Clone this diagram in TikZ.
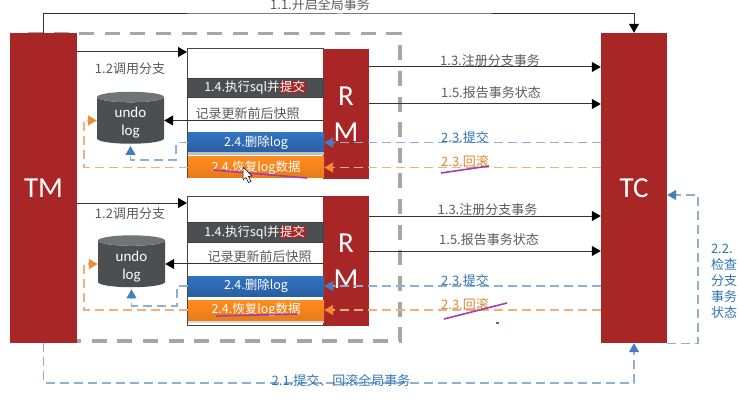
\documentclass[tikz,border=0pt]{standalone}
\usepackage{xcolor}
\usepackage{fontspec}
\setmainfont{Carlito}
\newfontfamily\cjk{Noto Sans CJK SC}
\usetikzlibrary{arrows.meta,shapes.geometric,shadows}

\tikzset{
  bloque/.style={rectangle, fill=rojoBloque, text=white, inner sep=0pt, font=\fontsize{29}{36}\selectfont, align=center},
  caja/.style={rectangle, draw=grisCaja, line width=1pt, fill=white, minimum width=136pt, minimum height=129pt},
  barra/.style={rectangle, minimum width=136pt, text=white, inner sep=0pt, font=\cjk\fontsize{12.5}{15}\selectfont},
  azulbarra/.style={barra, top color=azulClaro, bottom color=azulBajo},
  naranjabarra/.style={barra, top color=naranjaClaro, bottom color=naranjaBajo},
  etiqueta/.style={inner sep=0pt, text=grisTexto, font=\cjk\fontsize{13}{16}\selectfont},
  undo/.style={cylinder, shape border rotate=90, aspect=.35, cylinder uses custom fill, cylinder body fill=grisOscuro, cylinder end fill=grisTapa, draw=none, minimum width=67pt, minimum height=49pt, inner sep=0pt},
  undotexto/.style={inner sep=0pt, text=white, align=center, font=\fontsize{15}{18}\selectfont},
  flecha/.style={line width=1pt, draw=black!80, -{Triangle[length=9pt,width=10pt,color=black]}},
  azul/.style={line width=1.2pt, draw=azulLinea, dash pattern=on 9pt off 5pt, -{Triangle[length=9pt,width=10pt,color=azulPunta]}},
  naranja/.style={line width=1.2pt, draw=naranjaLinea, dash pattern=on 9pt off 5pt, -{Triangle[length=9pt,width=10pt,color=naranjaPunta]}},
  morado/.style={line width=1.6pt, draw=moradoTrazo}
}

\begin{document}
\begin{tikzpicture}[x=1pt, y=-1pt]

% Colores
\definecolor{rojoBloque}{RGB}{168,39,38}
\definecolor{grisCaja}{RGB}{70,72,74}
\definecolor{grisTexto}{RGB}{90,90,90}
\definecolor{grisOscuro}{RGB}{75,79,82}
\definecolor{grisTapa}{RGB}{112,116,118}
\definecolor{grisRayas}{RGB}{166,166,166}
\definecolor{azulLinea}{RGB}{143,175,215}
\definecolor{azulPunta}{RGB}{70,125,190}
\definecolor{azulTexto}{RGB}{46,117,182}
\definecolor{azulClaro}{RGB}{50,115,195}
\definecolor{azulBajo}{RGB}{42,95,160}
\definecolor{naranjaLinea}{RGB}{240,175,125}
\definecolor{naranjaPunta}{RGB}{240,140,50}
\definecolor{naranjaTexto}{RGB}{222,135,50}
\definecolor{naranjaClaro}{RGB}{255,140,30}
\definecolor{naranjaBajo}{RGB}{232,122,24}
\definecolor{moradoTrazo}{RGB}{165,60,170}

\useasboundingbox (0,0) rectangle (738,406);

% Marco discontinuo
\draw[line width=3.5pt, draw=grisRayas, dash pattern=on 15pt off 10.6pt] (28,33.5) -- (400,33.5) -- (400,341) -- (28,341);

% TM y TC
\node[bloque, minimum width=67pt, minimum height=310pt] (TM) at (43.5,188) {TM};
\node[bloque, minimum width=66pt, minimum height=310pt] (TC) at (634,188) {TC};

% Rama superior
\node[caja] (B1) at (255,113.5) {};
\node[bloque, minimum width=46pt, minimum height=130pt] (R1) at (346,114) {R\\M};
\node[barra, fill=grisOscuro, draw=black!75, minimum height=19pt] (E1) at (255,87.5) {1.4.执行sql并\setlength{\fboxsep}{.5pt}\colorbox{rojoBloque}{提交}};
\node[azulbarra, minimum height=19pt, drop shadow={shadow xshift=0pt, shadow yshift=-3pt, fill=black!25, opacity=1}] (D1) at (256,142.5) {2.4.删除log};
\node[naranjabarra, minimum height=21pt] (H1) at (256,167.5) {2.4.恢复log数据};
\node[undo] (U1) at (130.5,120.5) {\phantom{\rule{30pt}{36pt}}};
\node[undotexto] (T1) at (130.5,123) {undo\\log};
\node[etiqueta] (S1) at (247.5,114) {记录更新前后快照};

% Rama inferior
\node[caja] (B2) at (255,260.5) {};
\node[bloque, minimum width=46pt, minimum height=130pt] (R2) at (346,261) {R\\M};
\node[barra, fill=grisOscuro, draw=black!75, minimum height=20pt] (E2) at (255,232.5) {1.4.执行sql并\setlength{\fboxsep}{.5pt}\colorbox{rojoBloque}{提交}};
\node[azulbarra, minimum height=20pt] (D2) at (256,286) {2.4.删除log};
\node[naranjabarra, minimum height=20pt, drop shadow={shadow xshift=0pt, shadow yshift=-3pt, fill=black!15, opacity=1}] (H2) at (256,310) {2.4.恢复log数据};
\node[undo] (U2) at (131.5,264) {\phantom{\rule{30pt}{36pt}}};
\node[undotexto] (T2) at (131.5,266.5) {undo\\log};
\node[etiqueta] (S2) at (259.5,257) {记录更新前后快照};

% Puntos de paso
\coordinate (c11) at (340,14);
\coordinate (c21) at (340,383);
\coordinate (c22) at (698,195);
\coordinate (a121) at (187,52);
\coordinate (a122) at (187,203);
\coordinate (a131) at (480,67);
\coordinate (a151) at (480,104);
\coordinate (a132) at (480,216);
\coordinate (a152) at (480,251);
\coordinate (az1) at (176,160);
\coordinate (az2) at (177,306);
\coordinate (na1) at (84,140);
\coordinate (na2) at (84,290);

% Flechas negras
\draw[flecha] (TM.north) |- (c11) -| (TC.north);
\draw[flecha] (TM.east |- a121) -- (a121);
\draw[flecha] (TM.east |- a122) -- (a122);
\draw[flecha] (R1.east |- a131) -- (TC.west |- a131);
\draw[flecha] (R1.east |- a151) -- (TC.west |- a151);
\draw[flecha] (R2.east |- a132) -- (TC.west |- a132);
\draw[flecha] (R2.east |- a152) -- (TC.west |- a152);
\draw[flecha] (R1.west |- U1.east) -- (U1.east);
\draw[flecha] (R2.west |- U2.east) -- (U2.east);

% Flechas discontinuas
\draw[azul] (TC.west |- D1.east) -- (D1.east);
\draw[naranja] (TC.west |- H1.east) -- (H1.east);
\draw[azul] (TC.west |- D2.east) -- (D2.east);
\draw[naranja] (TC.west |- H2.east) -- (H2.east);
\draw[azul, shorten >=2pt] (D1.west) -| (az1) -| (U1.south);
\draw[azul, shorten >=2pt] (D2.west) -| (az2) -| (U2.south);
\draw[naranja] (H1.west) -| (na1) |- (U1.west);
\draw[naranja] (H2.west) -| (na2) |- (U2.west);
\draw[azul] (TM.south) |- (c21) -| (TC.south);
\draw[azul] (TC.south east) -| (c22) -- (TC.east |- c22);

% Etiquetas
\node[etiqueta] (L11) at (320,5) {1.1.开启全局事务};
\node[etiqueta] (L121) at (130,69) {1.2调用分支};
\node[etiqueta] (L122) at (130,214) {1.2调用分支};
\node[etiqueta] (L131) at (490,61) {1.3.注册分支事务};
\node[etiqueta] (L151) at (491,93) {1.5.报告事务状态};
\node[etiqueta] (L132) at (487.5,210) {1.3.注册分支事务};
\node[etiqueta] (L152) at (489,240) {1.5.报告事务状态};
\node[etiqueta, text=azulTexto] (L231) at (465,138) {2.3.提交};
\node[etiqueta, text=naranjaTexto] (L241) at (465,162) {2.3.回滚};
\node[etiqueta, text=azulTexto] (L232) at (465,281) {2.3.提交};
\node[etiqueta, text=naranjaTexto] (L242) at (465,305) {2.3.回滚};
\node[etiqueta, text=azulTexto] (L21) at (341,381) {2.1.提交、回滚全局事务};
\node[etiqueta, text=azulTexto, align=left] (L22) at (724,281) {2.2.\\检查\\分支\\事务\\状态};

% Trazos a mano
\draw[morado] (213,170) -- (307,178);
\draw[morado] (216,316) -- (297,314);
\draw[morado] (441,173) -- (489,166);
\draw[morado] (444,319) -- (507,303);
\fill[moradoTrazo] (496,322) rectangle (498.5,324);

% Cursor
\draw[fill=white, draw=black, line width=.5pt] (243,167) -- (243,180) -- (246,177.5) -- (248.5,182.5) -- (251,181.5) -- (248.5,176.5) -- (252,176) -- cycle;

\end{tikzpicture}
\end{document}
